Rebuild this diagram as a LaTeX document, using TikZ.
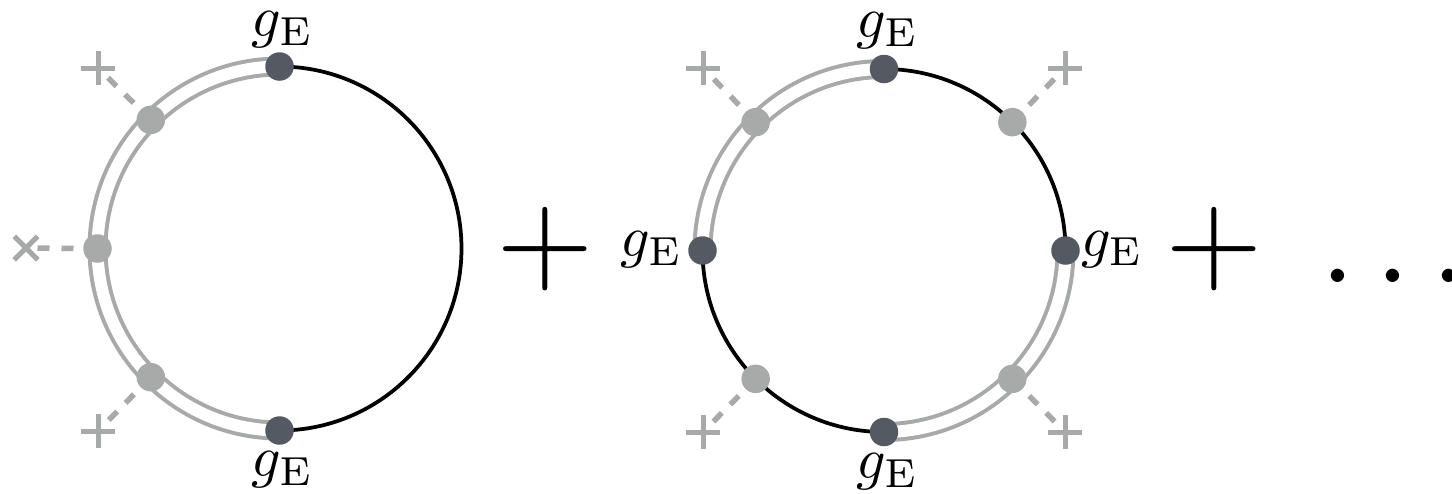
\documentclass[tikz,border=0pt]{standalone}
\usepackage{amsmath, amssymb}
\usetikzlibrary{calc, positioning, shapes.misc}

\definecolor{lightdot}{HTML}{A7AAA9}
\definecolor{darkdot}{HTML}{555A62}

\tikzset{
    gvertex/.style={circle, fill=darkdot, inner sep=0pt, minimum size=0.57cm},
    svertex/.style={circle, fill=lightdot, inner sep=0pt, minimum size=0.57cm},
    xsource/.style={cross out, draw=lightdot, line width=0.1cm, inner sep=0pt, minimum size=0.37cm},
    psource/.style={xsource, rotate=45},
    bare/.style={line width=0.075cm},
    dressed/.style={draw=lightdot, line width=0.08cm, double=white, double distance=0.24cm},
    scalar/.style={lightdot, line width=0.11cm, dash pattern=on 0.24cm off 0.24cm},
    coupling/.style={scale=3.3, inner sep=0pt},
    bigsym/.style={scale=7.14, inner sep=0pt}
}

\begin{document}
\begin{tikzpicture}
    \useasboundingbox (0,0) rectangle (29.04,9.86);
    \coordinate (c1) at (5.59,4.89);
    \coordinate (c2) at (17.68,4.85);

    % first loop
    \coordinate (t1) at ($(c1)+(90:3.64)$);
    \coordinate (b1) at ($(c1)+(-90:3.64)$);
    \coordinate (a1) at ($(c1)+(135:3.64)$);
    \coordinate (l1) at ($(c1)+(180:3.64)$);
    \coordinate (d1) at ($(c1)+(225:3.64)$);
    \draw[dressed] (t1) arc[start angle=90, end angle=270, radius=3.64cm];
    \draw[bare] (t1) arc[start angle=90, end angle=-90, radius=3.64cm];

    \node[psource] (pa1) at (1.96,8.50) {};
    \node[xsource] (xl1) at (0.52,4.90) {};
    \node[psource] (pd1) at (1.96,1.24) {};
    \draw[scalar] (a1) -- (pa1.center);
    \draw[scalar] (l1) -- (xl1.center);
    \draw[scalar] (d1) -- (pd1.center);

    \node[svertex] (va1) at (a1) {};
    \node[svertex] (vl1) at (l1) {};
    \node[svertex] (vd1) at (d1) {};
    \node[gvertex] (vt1) at (t1) {};
    \node[gvertex] (vb1) at (b1) {};
    \node[coupling] (gt1) at (5.65,9.26) {$g_{\mathrm{E}}$};
    \node[coupling] (gb1) at (5.65,0.46) {$g_{\mathrm{E}}$};

    \node[bigsym] (plus1) at (10.91,4.88) {$+$};

    % second loop
    \coordinate (t2) at ($(c2)+(90:3.63)$);
    \coordinate (b2) at ($(c2)+(-90:3.63)$);
    \coordinate (l2) at ($(c2)+(180:3.63)$);
    \coordinate (r2) at ($(c2)+(0:3.63)$);
    \coordinate (a2) at ($(c2)+(135:3.63)$);
    \coordinate (e2) at ($(c2)+(45:3.63)$);
    \coordinate (d2) at ($(c2)+(225:3.63)$);
    \coordinate (f2) at ($(c2)+(-45:3.63)$);
    \draw[dressed] (t2) arc[start angle=90, end angle=180, radius=3.63cm];
    \draw[dressed] (r2) arc[start angle=0, end angle=-90, radius=3.63cm];
    \draw[bare] (t2) arc[start angle=90, end angle=0, radius=3.63cm];
    \draw[bare] (l2) arc[start angle=180, end angle=270, radius=3.63cm];

    \node[psource] (pa2) at (14.06,8.50) {};
    \node[psource] (pe2) at (21.30,8.50) {};
    \node[psource] (pd2) at (14.06,1.22) {};
    \node[psource] (pf2) at (21.30,1.22) {};
    \draw[scalar] (a2) -- (pa2.center);
    \draw[scalar] (e2) -- (pe2.center);
    \draw[scalar] (d2) -- (pd2.center);
    \draw[scalar] (f2) -- (pf2.center);

    \node[svertex] (va2) at (a2) {};
    \node[svertex] (ve2) at (e2) {};
    \node[svertex] (vd2) at (d2) {};
    \node[svertex] (vf2) at (f2) {};
    \node[gvertex] (vt2) at (t2) {};
    \node[gvertex] (vb2) at (b2) {};
    \node[gvertex] (vl2) at (l2) {};
    \node[gvertex] (vr2) at (r2) {};
    \node[coupling] (gt2) at (17.75,9.24) {$g_{\mathrm{E}}$};
    \node[coupling] (gb2) at (17.75,0.42) {$g_{\mathrm{E}}$};
    \node[coupling] (gl2) at (13.03,4.86) {$g_{\mathrm{E}}$};
    \node[coupling] (gr2) at (22.24,4.86) {$g_{\mathrm{E}}$};

    \node[bigsym] (plus2) at (24.28,4.88) {$+$};
    \node[bigsym] (dots) at (27.87,4.34) {$\ldots$};
\end{tikzpicture}
\end{document}
